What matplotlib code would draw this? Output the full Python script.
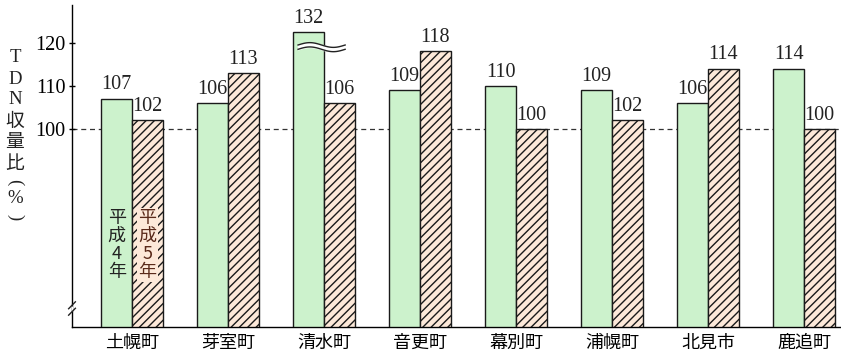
import matplotlib
matplotlib.use("Agg")
import matplotlib.pyplot as plt
import numpy as np

categories = ["土幌町", "芽室町", "清水町", "音更町", "幕別町", "浦幌町", "北見市", "鹿追町"]
h4 = [107, 106, 132, 109, 110, 109, 106, 114]
h5 = [102, 113, 106, 118, 100, 102, 114, 100]
yticks = [100, 110, 120]

plt.rcParams['font.family'] = ['Noto Sans CJK JP', 'DejaVu Sans']
plt.rcParams['hatch.color'] = '#5a2a1a'
plt.rcParams['hatch.linewidth'] = 1.0

fig = plt.figure(figsize=(8.41, 3.59), dpi=100)
ax = fig.add_axes([72/841, 32/359, 1 - 72/841, 322/359])

ymin, ymax = 53.95, 128.8
clip_top = 122.5
x = np.arange(len(categories))
w = 0.32
green = '#ccf2cc'
peach = '#fde9d9'

h4_draw = [min(v, clip_top) for v in h4]
ax.bar(x - w/2, [v - ymin for v in h4_draw], w, bottom=ymin, color=green,
       edgecolor='#1a1a1a', linewidth=1.0, zorder=3)
ax.bar(x + w/2, [v - ymin for v in h5], w, bottom=ymin, color=peach,
       edgecolor='#1a1a1a', linewidth=1.0, hatch='////', zorder=3)

serif = ['Liberation Serif', 'DejaVu Serif']
for i in range(len(categories)):
    ax.text(x[i] - w/2, h4_draw[i] + 1.0, str(h4[i]), ha='center', va='bottom',
            fontsize=14.5, family=serif, color='#222222')
    ax.text(x[i] + w/2, h5[i] + 1.0, str(h5[i]), ha='center', va='bottom',
            fontsize=14.5, family=serif, color='#222222')
    if h4[i] > clip_top:
        xs = np.linspace(x[i] - w/2 - 0.11, x[i] + w/2 + 0.06, 60)
        base = 119.0
        yy = base + 0.55 * np.sin((xs - xs[0]) / (xs[-1] - xs[0]) * 2 * np.pi)
        ax.fill_between(xs, yy - 0.5, yy + 0.5, color='white', zorder=4)
        ax.plot(xs, yy - 0.5, color='#222222', lw=1.0, zorder=5)
        ax.plot(xs, yy + 0.5, color='#222222', lw=1.0, zorder=5)

# dashed 100 line
ax.axhline(100, color='#333333', lw=0.9, ls=(0, (4, 3)), zorder=1)

# labels inside first pair
ax.text(x[0] - w/2, 73, "平\n成\n4\n年", ha='center', va='center', fontsize=13,
        linespacing=1.0, color='#222222', zorder=6)
ax.text(x[0] + w/2, 73, "平\n成\n5\n年", ha='center', va='center', fontsize=13,
        linespacing=1.0, color='#5a2a1a', zorder=6,
        bbox=dict(facecolor=peach, edgecolor='none', pad=1.0))

ax.set_xlim(-0.625, 7.385)
ax.set_ylim(ymin, ymax)
ax.set_xticks(x)
ax.set_xticklabels(categories, fontsize=13)
ax.set_yticks(yticks)
ax.set_yticklabels([str(t) for t in yticks], family=serif, fontsize=14.5)
ax.tick_params(axis='x', length=0, pad=5)
ax.tick_params(axis='y', length=5, direction='inout', width=1.0, pad=2)
for s in ['top', 'right']:
    ax.spines[s].set_visible(False)
ax.spines['left'].set_linewidth(1.0)
ax.spines['bottom'].set_linewidth(1.0)

# axis break mark at bottom of y axis
for dy in (57.5, 59.0):
    ax.plot([-0.66, -0.59], [dy - 0.8, dy + 0.8], color='#222222', lw=1.0,
            clip_on=False, zorder=6)
ax.fill_between([-0.63, -0.62], [57.6, 57.6], [58.9, 58.9], color='white', zorder=5)

# y label stacked vertically
ylab_chars = ["T", "D", "N", "収", "量", "比", "(", "%", ")"]
ylab_y = [58, 79, 100, 121, 142, 163, 182, 199, 217]
for ch, py in zip(ylab_chars, ylab_y):
    fam = serif if ch in "TDN%()" else ['Noto Sans CJK JP', 'DejaVu Sans']
    rot = -90 if ch in "()" else 0
    fig.text(15/841, 1 - py/359, ch, ha='center', va='center', rotation=rot,
             fontsize=13.5, color='#222222', family=fam)

fig.savefig("out.png", dpi=100)
